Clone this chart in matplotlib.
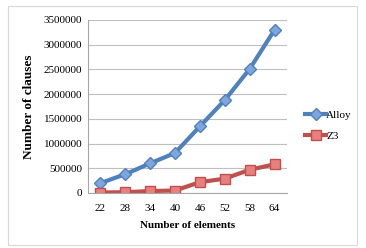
import matplotlib
matplotlib.use('Agg')
import matplotlib.pyplot as plt
from matplotlib.patches import Rectangle

elements = ['22', '28', '34', '40', '46', '52', '58', '64']
alloy = [200000, 380000, 600000, 810000, 1350000, 1880000, 2510000, 3300000]
z3 = [10000, 15000, 40000, 50000, 220000, 290000, 470000, 580000]
yticks = [0, 500000, 1000000, 1500000, 2000000, 2500000, 3000000, 3500000]

plt.rcParams['font.family'] = ['Liberation Serif', 'DejaVu Serif']

fig = plt.figure(figsize=(3.66, 2.48), dpi=100, facecolor='white')
# light frame round the chart, like the Excel chart border
fig.patches.append(Rectangle((8/366, 3/248), 349/366, 239/248, transform=fig.transFigure,
                             fill=False, edgecolor='#d9d9d9', linewidth=0.8))

ax = fig.add_axes([88/366, 55/248, 199/366, 173/248])
x = list(range(len(elements)))

ax.plot(x, alloy, color='#4f81bd', linewidth=3, marker='D', markersize=6.5,
        markerfacecolor='#7ea6dc', markeredgecolor='#4f81bd', label='Alloy')
ax.plot(x, z3, color='#c0504d', linewidth=3, marker='s', markersize=7.5,
        markerfacecolor='#e8817e', markeredgecolor='#c0504d', label='Z3')

ax.set_xlim(-0.5, 7.5)
ax.set_ylim(0, 3500000)
ax.set_yticks(yticks)
ax.set_yticklabels([str(v) for v in yticks], fontsize=8)
ax.set_xticks(x)
ax.set_xticklabels(elements, fontsize=8)
ax.tick_params(axis='y', length=0, pad=4)
ax.tick_params(axis='x', length=0, pad=8)
ax.yaxis.grid(True, color='#bfbfbf', linewidth=0.8)
ax.set_axisbelow(True)
for s in ['top', 'right']:
    ax.spines[s].set_visible(False)
ax.spines['left'].set_color('#a6a6a6')
ax.spines['bottom'].set_color('#a6a6a6')

ax.set_xlabel('Number of elements', fontsize=8, fontweight='bold', labelpad=6)
ax.set_ylabel('Number of clauses', fontsize=9.5, fontweight='bold', labelpad=6)

ax.legend(loc='center left', bbox_to_anchor=(1.04, 0.39), frameon=False,
          fontsize=8, handlelength=1.9, labelspacing=1.0, handletextpad=0.0)

fig.savefig('out.png', dpi=100)
